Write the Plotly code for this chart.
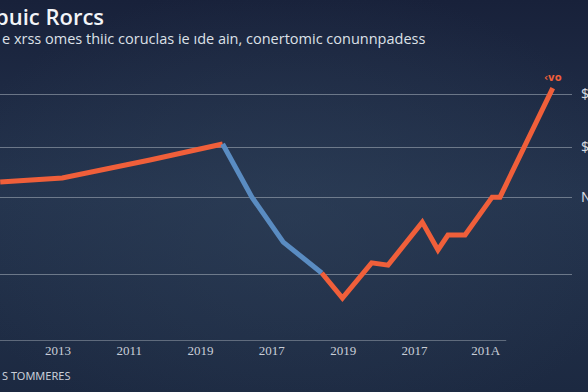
import base64
import plotly.graph_objects as go

# ---- data ----
tick_pos = [0, 1, 2, 3, 4, 5, 6]
tick_labels = ["2013", "2011", "2019", "2017", "2019", "2017", "201A"]
x_vals = [-0.81, 0.06, 1.29, 2.31, 2.72, 3.16, 3.70, 3.99, 4.40, 4.63,
          5.11, 5.33, 5.47, 5.71, 6.09, 6.20, 6.94]
y_vals = [56.6, 58.0, 64.4, 70.1, 51.2, 35.2, 24.2, 15.3, 27.8, 27.0,
          42.3, 32.4, 37.7, 37.7, 51.2, 51.2, 90.0]
grid_vals = [23.5, 51.2, 69.0, 87.9]
grid_labels = ["", "N", "$", "$"]
blue_start, blue_end = 3, 6

title_text = "buic Rorcs"
subtitle_text = "e xrss omes thiic coruclas ie ıde ain, conertomic conunnpadess"
x_title = "S TOMMERES"
peak_label = "‹vo"

ORANGE = "#f05f3a"
BLUE = "#5a8cc2"

W, H = 588, 392
ML, MR, MT, MB = 0, 16, 60, 51
PW, PH = W - ML - MR, H - MT - MB

svg = """<svg xmlns='http://www.w3.org/2000/svg' width='588' height='392'>
<defs>
<linearGradient id='g' x1='0' y1='0' x2='0' y2='1'>
<stop offset='0' stop-color='#18213a'/>
<stop offset='0.5' stop-color='#24344e'/>
<stop offset='1' stop-color='#1c2941'/>
</linearGradient>
<radialGradient id='r' cx='0.5' cy='0.55' r='0.6'>
<stop offset='0' stop-color='#30425a' stop-opacity='0.5'/>
<stop offset='1' stop-color='#30425a' stop-opacity='0'/>
</radialGradient>
</defs>
<rect width='588' height='392' fill='url(#g)'/>
<rect width='588' height='392' fill='url(#r)'/>
</svg>"""
bg_src = "data:image/svg+xml;base64," + base64.b64encode(svg.encode()).decode()

fig = go.Figure()
fig.add_trace(go.Scatter(x=x_vals[:blue_start + 1], y=y_vals[:blue_start + 1],
                         mode="lines", line=dict(color=ORANGE, width=5),
                         hoverinfo="skip"))
fig.add_trace(go.Scatter(x=x_vals[blue_start:blue_end + 1], y=y_vals[blue_start:blue_end + 1],
                         mode="lines", line=dict(color=BLUE, width=5),
                         hoverinfo="skip"))
fig.add_trace(go.Scatter(x=x_vals[blue_end:], y=y_vals[blue_end:],
                         mode="lines", line=dict(color=ORANGE, width=5),
                         hoverinfo="skip"))

fig.update_layout(
    width=W, height=H,
    margin=dict(l=ML, r=MR, t=MT, b=MB),
    paper_bgcolor="#1f2c42",
    plot_bgcolor="rgba(0,0,0,0)",
    showlegend=False,
    images=[dict(source=bg_src, xref="paper", yref="paper",
                 x=-ML / PW, y=1 + MT / PH,
                 sizex=W / PW, sizey=H / PH, sizing="stretch", layer="below",
                 xanchor="left", yanchor="top")],
    xaxis=dict(range=[-0.813, 7.21], tickvals=tick_pos, ticktext=tick_labels,
               showgrid=False, zeroline=False, showline=False, ticks="",
               tickfont=dict(family="Liberation Serif", size=13, color="#c9ced8"),
               automargin=False),
    yaxis=dict(range=[0, 100], tickvals=grid_vals, ticktext=grid_labels,
               side="right", showgrid=True, gridcolor="rgba(170,178,190,0.55)",
               gridwidth=1, zeroline=False, showline=False, ticks="",
               ticklabelstandoff=8,
               tickfont=dict(family="Noto Sans", size=14, color="#d5d9e0"),
               automargin=False),
    shapes=[dict(type="line", xref="paper", yref="y", x0=0, x1=0.885, y0=0, y1=0,
                 line=dict(color="rgba(190,196,205,0.8)", width=1.2), layer="below")],
    annotations=[
        dict(text=title_text, xref="paper", yref="paper", x=-0.012, y=1,
             xanchor="left", yanchor="bottom", yshift=27, showarrow=False,
             font=dict(family="Open Sans", size=22, color="#f2f4f7", weight=600)),
        dict(text=subtitle_text, xref="paper", yref="paper", x=0, y=1,
             xanchor="left", yanchor="bottom", yshift=10, showarrow=False,
             font=dict(family="Open Sans", size=14.5, color="#dde1e8")),
        dict(text=x_title, xref="paper", yref="paper", x=0, y=0,
             xanchor="left", yanchor="middle", yshift=-34, showarrow=False,
             font=dict(family="Noto Sans", size=11, color="#c9ced8")),
        dict(text=peak_label, xref="x", yref="y", x=x_vals[-1], y=y_vals[-1],
             xanchor="center", yanchor="bottom", yshift=3, showarrow=False,
             font=dict(family="DejaVu Sans", size=10, color=ORANGE, weight="bold")),
    ],
)

fig.write_html("out.html", config={"displayModeBar": False},
               post_script="document.body.style.margin='0';document.body.style.overflow='hidden';")
